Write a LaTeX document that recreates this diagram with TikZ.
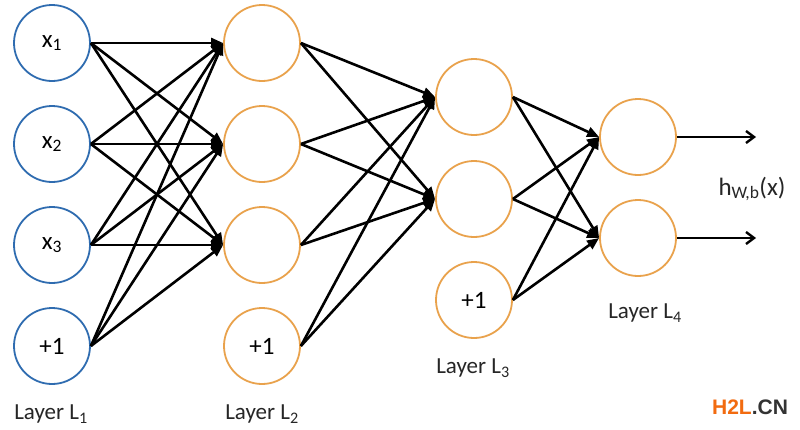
\documentclass[tikz,border=0pt]{standalone}
\usepackage{fontspec}
\setmainfont{Carlito}
\newfontfamily\wmfont{Liberation Sans}
\usetikzlibrary{arrows.meta}
\definecolor{nblue}{HTML}{2F6CB0}
\definecolor{norange}{HTML}{E9A24C}
\definecolor{wmorange}{HTML}{F26B10}
\definecolor{wmdark}{HTML}{333333}
\begin{document}
\begin{tikzpicture}[x=1pt,y=-1pt,
  neuron/.style={circle,draw,line width=1.8pt,minimum size=76pt,inner sep=0pt,font=\fontsize{25}{28}\selectfont},
  inp/.style={neuron,draw=nblue},
  hid/.style={neuron,draw=norange},
  conn/.style={line width=2.6pt,-{Triangle[length=12pt,width=10pt]}},
  outc/.style={line width=2.4pt,-{Straight Barb[length=8pt,width=12pt,line width=2.4pt]}},
  lbl/.style={font=\fontsize{23}{26}\selectfont,text=black!85}]
\useasboundingbox[fill=white] (0,0) rectangle (800,429);
% layer 1
\node[inp] (a1) at (52,43) {x\textsubscript{1}};
\node[inp] (a2) at (52,144) {x\textsubscript{2}};
\node[inp] (a3) at (52,245) {x\textsubscript{3}};
\node[inp] (a4) at (52,346) {+1};
% layer 2
\node[hid] (b1) at (262,43) {};
\node[hid] (b2) at (262,144) {};
\node[hid] (b3) at (262,245) {};
\node[hid] (b4) at (262,346) {+1};
% layer 3
\node[hid] (c1) at (474,97) {};
\node[hid] (c2) at (474,199) {};
\node[hid] (c3) at (474,300) {+1};
% layer 4
\node[hid] (d1) at (638,137) {};
\node[hid] (d2) at (638,238) {};
\coordinate (o1) at (756,137);
\coordinate (o2) at (756,238);
% connections
\foreach \s in {a1,a2,a3,a4}{\foreach \t in {b1,b2,b3}{\draw[conn] (\s.east) -- (\t.west);}}
\foreach \s in {b1,b2,b3,b4}{\foreach \t in {c1,c2}{\draw[conn] (\s.east) -- (\t.west);}}
\foreach \s in {c1,c2,c3}{\foreach \t in {d1,d2}{\draw[conn] (\s.east) -- (\t.west);}}
\draw[outc] (d1.east) -- (o1);
\draw[outc] (d2.east) -- (o2);
% labels
\node[lbl,font=\fontsize{25}{28}\selectfont] (h) at (752,189) {h\textsubscript{W,b}(x)};
\node[lbl] (l1) at (51,414) {Layer L\textsubscript{1}};
\node[lbl] (l2) at (262,414) {Layer L\textsubscript{2}};
\node[lbl] (l3) at (473,368) {Layer L\textsubscript{3}};
\node[lbl] (l4) at (645,313) {Layer L\textsubscript{4}};
\node[font=\wmfont\bfseries\fontsize{21}{23}\selectfont] (wm) at (750,407) {\textcolor{wmorange}{H2L}\textcolor{wmdark}{.CN}};
\end{tikzpicture}
\end{document}
